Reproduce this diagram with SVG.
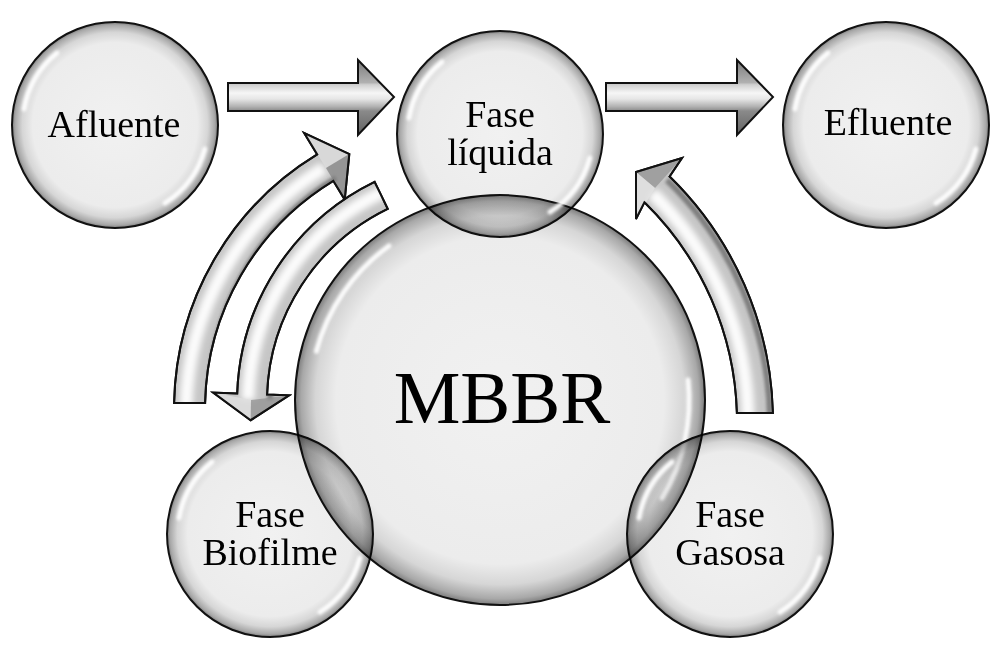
<svg xmlns="http://www.w3.org/2000/svg" width="1002" height="669" viewBox="0 0 1002 669">
<defs>
<style>
.lbl{font-family:"Liberation Serif","Times New Roman",serif;font-size:38px;fill:#000;text-anchor:middle}
.big{font-size:75px}
.ball{fill:url(#ballGrad);stroke:#111;stroke-width:2;mix-blend-mode:multiply}
.hl{fill:none;stroke:#fff;stroke-width:5;stroke-linecap:round;opacity:0.95;filter:url(#blur2)}
.arrow{fill:#c6c6c6;stroke:#111;stroke-width:2;stroke-linejoin:miter}
.sarrow{fill:url(#straightGrad);stroke:#111;stroke-width:2}
.ahl{fill:none;stroke:#fcfcfc;stroke-width:13;filter:url(#blur3)}
.adk{fill:none;stroke:#808080;stroke-width:6;filter:url(#blur2)}
</style>
<radialGradient id="ballGrad" cx="0.5" cy="0.5" r="0.5">
<stop offset="0" stop-color="#f1f1f1"/>
<stop offset="0.8" stop-color="#ececec"/>
<stop offset="0.9" stop-color="#d6d6d6"/>
<stop offset="0.97" stop-color="#a8a8a8"/>
<stop offset="1" stop-color="#7c7c7c"/>
</radialGradient>
<linearGradient id="straightGrad" gradientUnits="userSpaceOnUse" x1="0" y1="60" x2="0" y2="135">
<stop offset="0" stop-color="#7a7a7a"/>
<stop offset="0.3" stop-color="#b0b0b0"/>
<stop offset="0.33" stop-color="#d0d0d0"/>
<stop offset="0.44" stop-color="#f6f6f6"/>
<stop offset="0.52" stop-color="#e6e6e6"/>
<stop offset="0.62" stop-color="#b2b2b2"/>
<stop offset="0.68" stop-color="#8a8a8a"/>
<stop offset="1" stop-color="#626262"/>
</linearGradient>
<filter id="blur2" x="-20%" y="-20%" width="140%" height="140%"><feGaussianBlur stdDeviation="1.6"/></filter>
<filter id="blur3" x="-20%" y="-20%" width="140%" height="140%"><feGaussianBlur stdDeviation="3"/></filter>
<clipPath id="clipA"><path d="M174.1,403 A298 298 0 0 1 317.2,154.4 L304.2,133 L349.3,154 L344.7,199.6 L333.3,180.8 A267 267 0 0 0 205.1,403 Z"/></clipPath>
<clipPath id="clipB"><path d="M374.6,181.8 A245 245 0 0 0 237.2,393.4 L213.2,392.6 L250.7,420.2 L289.1,395.3 L267.1,394.5 A215 215 0 0 1 387.7,208.8 Z"/></clipPath>
<clipPath id="clipC"><path d="M772.9,413 A343 343 0 0 0 669.6,176.5 L682,158 L636,172 L636,219 L644.4,202.3 A307 307 0 0 1 736.9,413 Z"/></clipPath>
</defs>
<rect width="1002" height="669" fill="#fff"/>

<g id="connectors">
  <g id="arrow-afluente-liquida">
    <path class="sarrow" d="M228,83 H358 V60 L394,97 L358,135 V111 H228 Z"/>
  </g>
  <g id="arrow-liquida-efluente">
    <path class="sarrow" d="M606,83 H737 V60 L773,97 L737,135 V111 H606 Z"/>
  </g>
  <g id="arrow-biofilme-liquida">
    <path class="arrow" d="M174.1,403 A298 298 0 0 1 317.2,154.4 L304.2,133 L349.3,154 L344.7,199.6 L333.3,180.8 A267 267 0 0 0 205.1,403 Z"/>
    <g clip-path="url(#clipA)">
      <path class="adk" d="M209,410 A264 264 0 0 1 336,178"/>
      <path class="ahl" d="M186,410 A286 286 0 0 1 324,168"/>
      <path d="M304.2,133 L349.3,154 L326,168 Z" fill="#dcdcdc" opacity="0.8"/>
      <path d="M344.7,199.6 L349.3,154 L326,168 Z" fill="#808080" opacity="0.7"/>
    </g>
    <path d="M174.1,403 A298 298 0 0 1 317.2,154.4 L304.2,133 L349.3,154 L344.7,199.6 L333.3,180.8 A267 267 0 0 0 205.1,403 Z" fill="none" stroke="#111" stroke-width="2"/>
  </g>
  <g id="arrow-liquida-biofilme">
    <path class="arrow" d="M374.6,181.8 A245 245 0 0 0 237.2,393.4 L213.2,392.6 L250.7,420.2 L289.1,395.3 L267.1,394.5 A215 215 0 0 1 387.7,208.8 Z"/>
    <g clip-path="url(#clipB)">
      <path class="adk" d="M393,212 A212 212 0 0 0 270,400"/>
      <path class="ahl" d="M383,192 A234 234 0 0 0 248,400"/>
      <path d="M213.2,392.6 L250.7,420.2 L251,400 Z" fill="#e0e0e0" opacity="0.8"/>
      <path d="M289.1,395.3 L250.7,420.2 L251,400 Z" fill="#8e8e8e" opacity="0.7"/>
    </g>
    <path d="M374.6,181.8 A245 245 0 0 0 237.2,393.4 L213.2,392.6 L250.7,420.2 L289.1,395.3 L267.1,394.5 A215 215 0 0 1 387.7,208.8 Z" fill="none" stroke="#111" stroke-width="2"/>
  </g>
  <g id="arrow-gasosa-liquida">
    <path class="arrow" d="M772.9,413 A343 343 0 0 0 669.6,176.5 L682,158 L636,172 L636,219 L644.4,202.3 A307 307 0 0 1 736.9,413 Z"/>
    <g clip-path="url(#clipC)">
      <path class="adk" d="M770,420 A340 340 0 0 0 667,180"/>
      <path class="ahl" d="M748,420 A318 318 0 0 0 652,193"/>
      <path d="M636,172 L682,158 L655,188 Z" fill="#909090" opacity="0.7"/>
      <path d="M636,172 L636,219 L655,188 Z" fill="#e4e4e4" opacity="0.8"/>
    </g>
    <path d="M772.9,413 A343 343 0 0 0 669.6,176.5 L682,158 L636,172 L636,219 L644.4,202.3 A307 307 0 0 1 736.9,413 Z" fill="none" stroke="#111" stroke-width="2"/>
  </g>
</g>

<g id="node-mbbr" transform="translate(500,400)">
  <circle class="ball" r="205"/>
  <path class="hl" d="M188,-20 A190 190 0 0 1 162,98"/>
  <path class="hl" d="M-183.6,-48.7 A190 190 0 0 1 -111,-154"/>
  <text class="lbl big" x="2" y="23">MBBR</text>
</g>

<g id="node-afluente" transform="translate(115,125)">
  <circle class="ball" r="103"/>
  <path class="hl" d="M89.8,24.1 A93 93 0 0 1 50,78"/>
  <path class="hl" d="M-91,-16 A93 93 0 0 1 -58,-72"/>
  <text class="lbl" x="-1" y="12">Afluente</text>
</g>

<g id="node-liquida" transform="translate(500,134)">
  <circle class="ball" r="103"/>
  <path class="hl" d="M89.8,24.1 A93 93 0 0 1 50,78"/>
  <path class="hl" d="M-91,-16 A93 93 0 0 1 -58,-72"/>
  <text class="lbl" x="0" y="-7">Fase</text>
  <text class="lbl" x="0" y="31">líquida</text>
</g>

<g id="node-efluente" transform="translate(886,125)">
  <circle class="ball" r="103"/>
  <path class="hl" d="M89.8,24.1 A93 93 0 0 1 50,78"/>
  <path class="hl" d="M-91,-16 A93 93 0 0 1 -58,-72"/>
  <text class="lbl" x="2" y="10">Efluente</text>
</g>

<g id="node-biofilme" transform="translate(270,534)">
  <circle class="ball" r="103"/>
  <path class="hl" d="M89.8,24.1 A93 93 0 0 1 50,78"/>
  <path class="hl" d="M-91,-16 A93 93 0 0 1 -58,-72"/>
  <text class="lbl" x="0" y="-7">Fase</text>
  <text class="lbl" x="0" y="31">Biofilme</text>
</g>

<g id="node-gasosa" transform="translate(730,534)">
  <circle class="ball" r="103"/>
  <path class="hl" d="M89.8,24.1 A93 93 0 0 1 50,78"/>
  <path class="hl" d="M-91,-16 A93 93 0 0 1 -58,-72"/>
  <text class="lbl" x="0" y="-7">Fase</text>
  <text class="lbl" x="0" y="31">Gasosa</text>
</g>
</svg>
